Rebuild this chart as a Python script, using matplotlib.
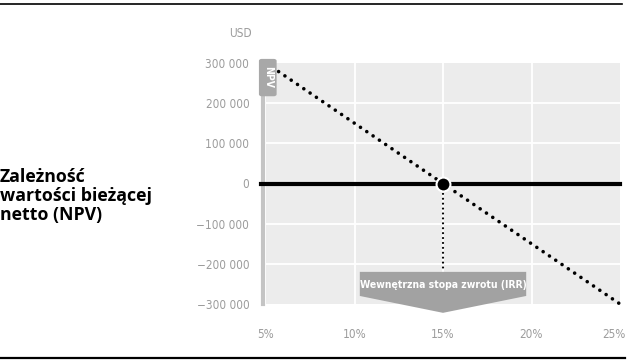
import matplotlib
matplotlib.use('Agg')
import matplotlib.pyplot as plt
from matplotlib import font_manager
from matplotlib.patches import Polygon, FancyBboxPatch
from matplotlib.lines import Line2D
from matplotlib.transforms import ScaledTranslation

# data
rates = [5, 25]                 # discount rate, %
npv = [300000, -300000]         # NPV, USD
irr = 15                        # internal rate of return, %
xticks = [5, 10, 15, 20, 25]
xticklabels = ['5%', '10%', '15%', '20%', '25%']
yticks = [300000, 200000, 100000, 0, -100000, -200000, -300000]
yticklabels = ['300 000', '200 000', '100 000', '0', '\u2212100 000', '\u2212200 000', '\u2212300 000']

title = 'Zależność\nwartości bieżącej\nnetto (NPV)'
irr_label = 'Wewnętrzna stopa zwrotu (IRR)'

narrow = font_manager.FontProperties(family='DejaVu Sans', stretch='condensed', size=8.5)
narrow_b = font_manager.FontProperties(family='DejaVu Sans', stretch='condensed', weight='bold', size=7.5)
grey_txt = '#9c9c9c'

fig = plt.figure(figsize=(6.31, 3.64), dpi=100)
ax = fig.add_axes([266/631, 60/364, 354/631, 241/364])
ax.set_facecolor('#ececec')
ax.set_xlim(5, 25)
ax.set_ylim(-300000, 300000)

for s in ['top', 'right', 'bottom']:
    ax.spines[s].set_visible(False)
ax.spines['left'].set_position(('outward', 2))
ax.spines['left'].set_color('#c4c4c4')
ax.spines['left'].set_linewidth(3)

ax.set_xticks(xticks)
ax.set_xticklabels(xticklabels, fontproperties=narrow, color=grey_txt)
ax.set_yticks(yticks)
ax.set_yticklabels(yticklabels, fontproperties=narrow, color=grey_txt)
ax.tick_params(axis='both', length=0)
ax.tick_params(axis='x', pad=17)
ax.tick_params(axis='y', pad=10)
last = ax.get_xticklabels()[-1]
last.set_transform(last.get_transform() + ScaledTranslation(-6/100, 0, fig.dpi_scale_trans))

# white grid
for x in [10, 15, 20]:
    ax.axvline(x, color='white', lw=1.3, zorder=1)
for y in [-200000, -100000, 100000, 200000]:
    ax.axhline(y, color='white', lw=1.3, zorder=1)

# zero line
ax.axhline(0, xmin=-0.015, xmax=1.0, color='black', lw=3, zorder=3, clip_on=False)

# NPV line (dotted)
ax.plot(rates, npv, color='black', lw=2.6, linestyle=(0, (0.01, 2.1)),
        dash_capstyle='round', zorder=4, clip_on=False)

# drop line from IRR
ax.plot([irr, irr], [0, -220000], color='black', lw=1.6, linestyle=(0, (0.01, 2.2)),
        dash_capstyle='round', zorder=3)

# IRR point
ax.plot([irr], [0], 'o', ms=10, color='black', mec='white', mew=1.5, zorder=6)

# IRR arrow box
w = 4.7
shape = [(irr - w, -220000), (irr + w, -220000), (irr + w, -280000),
         (irr, -322000), (irr - w, -280000)]
ax.add_patch(Polygon(shape, closed=True, fc='#a2a2a2', ec='none', zorder=5, clip_on=False))
ax.text(irr, -252000, irr_label, ha='center', va='center', color='white',
        fontproperties=narrow_b, zorder=6)

# NPV tag on the axis
ax.add_patch(FancyBboxPatch((-0.02, 0.862), 0.05, 0.155, boxstyle='round,pad=0,rounding_size=0.008',
                            transform=ax.transAxes, fc='#a8a8a8', ec='none', zorder=7, clip_on=False))
ax.text(0.005, 0.94, 'NPV', transform=ax.transAxes, rotation=270, ha='center', va='center',
        color='white', fontproperties=narrow_b, zorder=8)

# unit label
ax.text(-0.04, 1.124, 'USD', transform=ax.transAxes, ha='right', va='center',
        color=grey_txt, fontproperties=narrow)

# title on the left
fig.text(0.0, 1 - 196/364, title, ha='left', va='center', fontsize=12.8,
         fontweight='bold', fontfamily=['Open Sans', 'DejaVu Sans'], linespacing=1.1)

# frame rules
fig.add_artist(Line2D([0, 0.985], [1 - 4/364, 1 - 4/364], color='black', lw=1.2, transform=fig.transFigure))
fig.add_artist(Line2D([0, 0.99], [1 - 358/364, 1 - 358/364], color='black', lw=1.6, transform=fig.transFigure))

fig.savefig('out.png', dpi=100)
